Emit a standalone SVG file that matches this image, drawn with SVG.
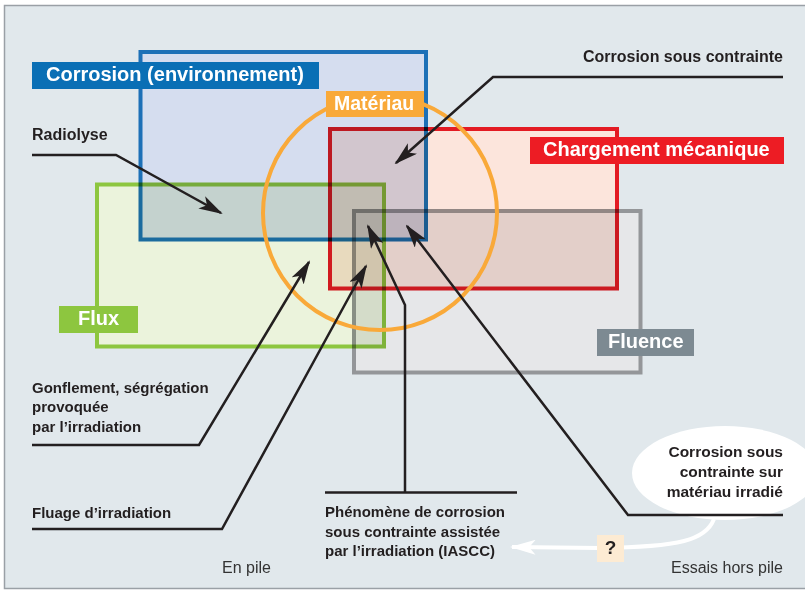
<svg xmlns="http://www.w3.org/2000/svg" width="805" height="590" viewBox="0 0 805 590">
<style>
.zone{mix-blend-mode:multiply;stroke-width:4}
.lab{font-family:"Liberation Sans",Arial,sans-serif;font-weight:bold;font-size:20px;fill:#ffffff}
.txt{font-family:"Liberation Sans",Arial,sans-serif;font-weight:bold;font-size:15px;fill:#231f20}
.reg{font-family:"Liberation Sans",Arial,sans-serif;font-size:16px;fill:#333333}
.lead{fill:none;stroke:#231f20;stroke-width:2.5;stroke-linejoin:miter}
.arr{marker-end:url(#ah)}
</style>
<defs>
<marker id="ah" viewBox="0 0 24 14" refX="22" refY="7" markerWidth="24" markerHeight="14" orient="auto" markerUnits="userSpaceOnUse">
<path d="M0,0 L24,7 L0,14 L6,7 Z" fill="#231f20"/>
</marker>
<marker id="ahw" viewBox="0 0 24 14" refX="22" refY="7" markerWidth="26" markerHeight="15" orient="auto" markerUnits="userSpaceOnUse">
<path d="M0,0 L24,7 L0,14 L6,7 Z" fill="#ffffff"/>
</marker>
</defs>
<rect x="4.5" y="5.5" width="810" height="583" fill="#e1e8ec" stroke="#9aa0a6" stroke-width="1.5"/>

<g id="zones" style="isolation:isolate">
<rect id="zone-flux" class="zone" x="97" y="184.5" width="287" height="162" fill="#ebf3dc" stroke="#8dc63f"/>
<rect id="zone-corrosion" class="zone" x="140.5" y="52" width="285.5" height="187.5" fill="#d5ddef" stroke="#1d70b7"/>
<rect id="zone-chargement" class="zone" x="330" y="129" width="287" height="159.5" fill="#fce5dc" stroke="#e31b23"/>
<rect id="zone-fluence" class="zone" x="354" y="211" width="286.5" height="161.5" fill="#e6e7e9" stroke="#949699"/>
</g>
<g id="materiau-circle">
<circle cx="380" cy="213" r="117" fill="none" stroke="#f9a939" stroke-width="4"/>
</g>

<g id="label-corrosion">
<rect x="32" y="62" width="287" height="27" fill="#0a6fb5"/>
<text class="lab" x="46" y="81">Corrosion (environnement)</text>
</g>
<g id="label-materiau">
<rect x="326" y="91" width="98" height="26" fill="#f9a939"/>
<text class="lab" x="334" y="110" style="font-size:19.5px">Matériau</text>
</g>
<g id="label-chargement">
<rect x="530" y="137" width="254" height="27" fill="#ed1c24"/>
<text class="lab" x="543" y="156">Chargement mécanique</text>
</g>
<g id="label-flux">
<rect x="59" y="306" width="79" height="27" fill="#8dc63f"/>
<text class="lab" x="78" y="325">Flux</text>
</g>
<g id="label-fluence">
<rect x="597" y="329" width="97" height="27" fill="#7d8a92"/>
<text class="lab" x="608" y="348">Fluence</text>
</g>

<g id="bubble-irradie">
<ellipse cx="725" cy="473" rx="93" ry="47" fill="#ffffff"/>
<text class="txt" style="font-size:15.5px" text-anchor="end"><tspan x="783" y="457">Corrosion sous</tspan><tspan x="783" y="477">contrainte sur</tspan><tspan x="783" y="497">matériau irradié</tspan></text>
</g>

<g id="connectors">
<path class="lead arr" d="M32,155 H116 L221,213"/>
<path class="lead arr" d="M783,77 H493 L396,163"/>
<path class="lead arr" d="M32,445 H199 L309,262"/>
<path class="lead arr" d="M32,529 H222 L366,266"/>
<path class="lead" d="M325,492.5 H517"/>
<path class="lead arr" d="M405,492.5 V305 L368,226"/>
<path class="lead arr" d="M783,515 H628 L407,226"/>
<path d="M714,519 C706,540 680,547 600,548 L512,547" fill="none" stroke="#ffffff" stroke-width="4" marker-end="url(#ahw)"/>
</g>

<g id="text-radiolyse"><text class="txt" x="32" y="140" style="font-size:16px">Radiolyse</text></g>
<g id="text-csc"><text class="txt" x="783" y="62" text-anchor="end" style="font-size:16px">Corrosion sous contrainte</text></g>
<g id="text-gonflement"><text class="txt"><tspan x="32" y="393">Gonflement, ségrégation</tspan><tspan x="32" y="412">provoquée</tspan><tspan x="32" y="432">par l’irradiation</tspan></text></g>
<g id="text-fluage"><text class="txt" x="32" y="518">Fluage d’irradiation</text></g>
<g id="text-iascc"><text class="txt"><tspan x="325" y="517">Phénomène de corrosion</tspan><tspan x="325" y="537">sous contrainte assistée</tspan><tspan x="325" y="556">par l’irradiation (IASCC)</tspan></text></g>

<g id="question">
<rect x="597" y="535" width="27" height="27" fill="#fdebd3"/>
<text class="txt" x="610.5" y="554" text-anchor="middle" style="font-size:19px">?</text>
</g>

<text class="reg" x="222" y="573">En pile</text>
<text class="reg" x="783" y="573" text-anchor="end">Essais hors pile</text>
</svg>
